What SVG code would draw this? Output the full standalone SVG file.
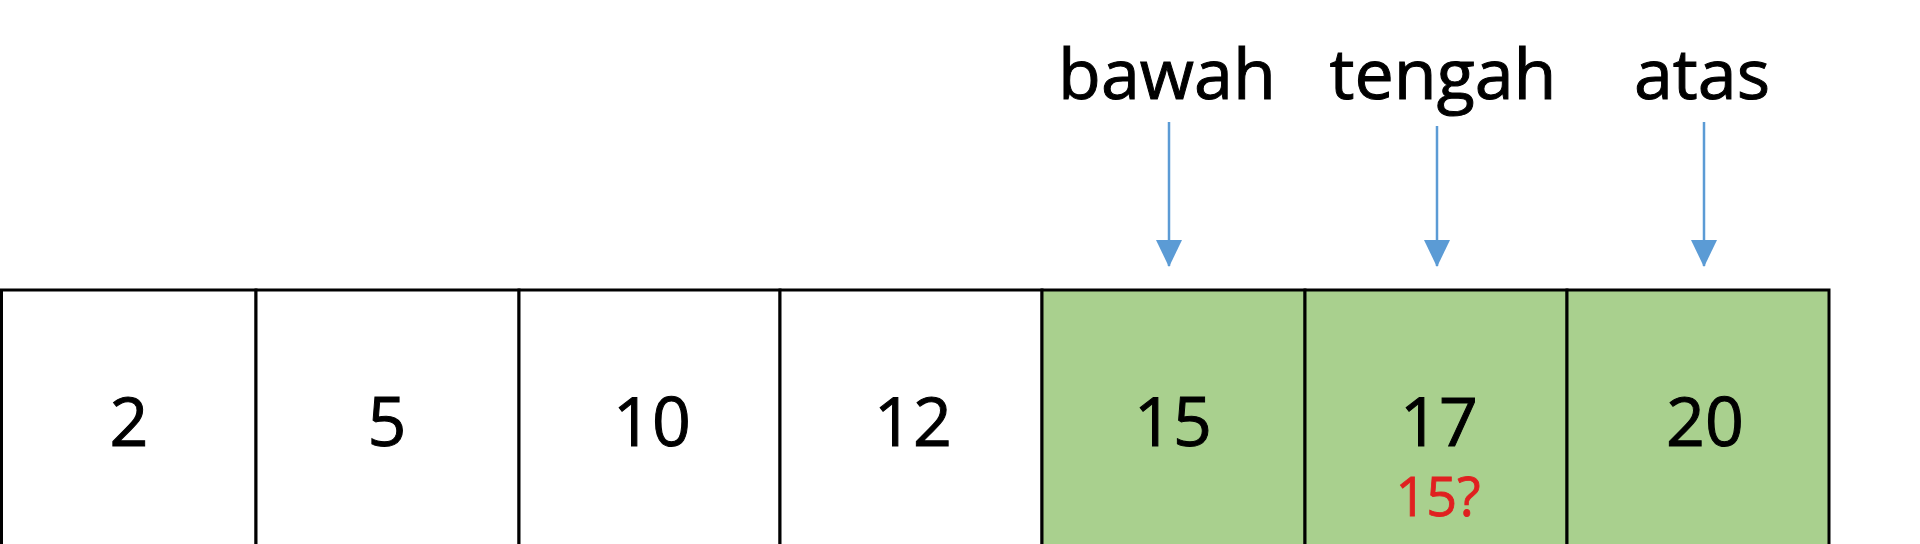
<svg xmlns="http://www.w3.org/2000/svg" width="1920" height="544" viewBox="0 0 1920 544">
<style>
.c{stroke:#000;stroke-width:3}
.w{fill:#fff}.g{fill:#a9d08e}
.n{font-family:"Open Sans","Liberation Sans",sans-serif;font-size:68px;text-anchor:middle;fill:#000;stroke:#000;stroke-width:1}
.l{font-family:"Open Sans","Liberation Sans",sans-serif;font-size:70px;text-anchor:middle;fill:#000;stroke:#000;stroke-width:1}
.r{font-family:"Open Sans","Liberation Sans",sans-serif;font-size:54px;text-anchor:middle;fill:#e02020;stroke:#e02020;stroke-width:0.8}
.a{stroke:#5b9bd5;stroke-width:2.5;fill:none}
</style>
<defs><marker id="ah2" markerWidth="28" markerHeight="28" refX="26" refY="14" orient="auto" markerUnits="userSpaceOnUse"><path d="M0,1L27,14L0,27z" fill="#5b9bd5"/></marker></defs>
<rect width="1920" height="544" fill="#fff"/>
<g id="cell-0"><rect class="c w" x="1.5" y="290" width="254.5" height="260"/><text class="n" x="129" y="446">2</text></g>
<g id="cell-1"><rect class="c w" x="256" y="290" width="263" height="260"/><text class="n" x="387" y="446">5</text></g>
<g id="cell-2"><rect class="c w" x="519" y="290" width="261" height="260"/><text class="n" x="652" y="446">10</text></g>
<g id="cell-3"><rect class="c w" x="780" y="290" width="262" height="260"/><text class="n" x="913" y="446">12</text></g>
<g id="cell-4"><rect class="c g" x="1042" y="290" width="263" height="260"/><text class="n" x="1173" y="446">15</text></g>
<g id="cell-5"><rect class="c g" x="1305" y="290" width="262" height="260"/><text class="n" x="1439" y="446">17</text><text class="r" x="1438" y="516">15?</text></g>
<g id="cell-6"><rect class="c g" x="1567" y="290" width="262" height="260"/><text class="n" x="1705" y="446">20</text></g>
<g id="label-bawah"><text class="l" x="1167" y="99">bawah</text></g>
<g id="label-tengah"><text class="l" x="1443" y="99">tengah</text></g>
<g id="label-atas"><text class="l" x="1702" y="99">atas</text></g>
<g id="connectors">
<line class="a" x1="1169" y1="122" x2="1169" y2="266" marker-end="url(#ah2)"/>
<line class="a" x1="1437" y1="126" x2="1437" y2="266" marker-end="url(#ah2)"/>
<line class="a" x1="1704" y1="122" x2="1704" y2="266" marker-end="url(#ah2)"/>
</g>
</svg>
